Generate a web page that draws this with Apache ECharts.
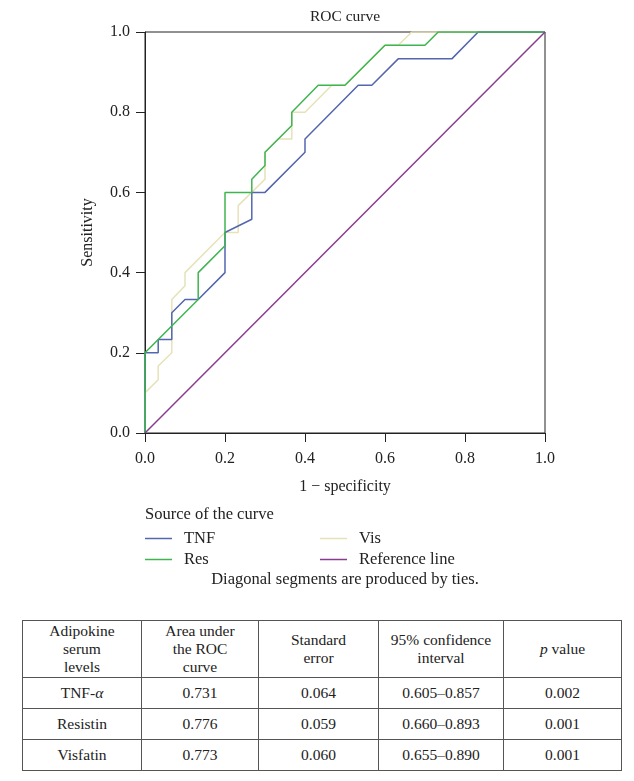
<!DOCTYPE html>
<html>
<head>
<meta charset="utf-8">
<script src="https://cdn.jsdelivr.net/npm/echarts@6/dist/echarts.min.js"></script>
<style>
  html, body { margin: 0; padding: 0; background: #fff; }
  #wrap { position: relative; width: 634px; height: 781px; }
  #chart { position: absolute; left: 0; top: 0; width: 634px; height: 610px; }
  #tbl { position: absolute; left: 22px; top: 620px; border-collapse: collapse; table-layout: fixed; width: 599px;
         font-family: "Liberation Serif", "DejaVu Serif", serif; font-size: 15.5px; color: #222; }
  #tbl td { border: 1px solid #555; text-align: center; padding: 0; line-height: 18px; box-sizing: border-box; }
</style>
</head>
<body>
<div id="wrap">
  <div id="chart"></div>
  <table id="tbl"></table>
</div>
<script>
// ROC curve points (1 - specificity, sensitivity)
const tnfX = [0, 0, 0.033, 0.033, 0.067, 0.067, 0.1, 0.133, 0.2, 0.2, 0.267, 0.267, 0.3, 0.4, 0.4, 0.533, 0.567, 0.633, 0.767, 0.833, 1];
const tnfY = [0, 0.2, 0.2, 0.233, 0.233, 0.3, 0.333, 0.333, 0.4, 0.5, 0.533, 0.6, 0.6, 0.7, 0.733, 0.867, 0.867, 0.933, 0.933, 1, 1];

const resX = [0, 0, 0.133, 0.133, 0.2, 0.2, 0.267, 0.267, 0.3, 0.3, 0.367, 0.367, 0.433, 0.5, 0.6, 0.7, 0.733, 1];
const resY = [0, 0.2, 0.333, 0.4, 0.467, 0.6, 0.6, 0.633, 0.667, 0.7, 0.767, 0.8, 0.867, 0.867, 0.967, 0.967, 1, 1];

const visX = [0, 0, 0.033, 0.033, 0.067, 0.067, 0.1, 0.1, 0.2, 0.233, 0.233, 0.3, 0.3, 0.333, 0.367, 0.367, 0.4, 0.467, 0.5, 0.6, 0.633, 0.667, 1];
const visY = [0, 0.1, 0.133, 0.167, 0.2, 0.333, 0.367, 0.4, 0.5, 0.5, 0.567, 0.633, 0.7, 0.733, 0.733, 0.8, 0.8, 0.867, 0.867, 0.967, 0.967, 1, 1];

const refX = [0, 1];
const refY = [0, 1];

// Table
const tableHeader = ['Adipokine<br>serum<br>levels', 'Area under<br>the ROC<br>curve', 'Standard<br>error', '95% confidence<br>interval', '<i>p</i> value'];
const tableNames = ['TNF-<i>α</i>', 'Resistin', 'Visfatin'];
const tableAUC = ['0.731', '0.776', '0.773'];
const tableSE = ['0.064', '0.059', '0.060'];
const tableCI = ['0.605–0.857', '0.660–0.893', '0.655–0.890'];
const tableP = ['0.002', '0.001', '0.001'];

const colWidths = [119, 117, 120, 125, 118];

(function buildTable() {
  const t = document.getElementById('tbl');
  let html = '<colgroup>';
  colWidths.forEach(w => { html += '<col style="width:' + w + 'px">'; });
  html += '</colgroup><tr style="height:57px">';
  tableHeader.forEach(h => { html += '<td>' + h + '</td>'; });
  html += '</tr>';
  for (let r = 0; r < tableNames.length; r++) {
    html += '<tr style="height:31px">';
    [tableNames[r], tableAUC[r], tableSE[r], tableCI[r], tableP[r]].forEach(v => { html += '<td>' + v + '</td>'; });
    html += '</tr>';
  }
  t.innerHTML = html;
})();

const zip = (xs, ys) => xs.map((x, i) => [x, ys[i]]);
const FONT = '"Liberation Serif", "DejaVu Serif", serif';

const colors = { TNF: '#5366ae', Res: '#3fb54f', Vis: '#e6e2b8', Ref: '#8a3b8e' };

const chart = echarts.init(document.getElementById('chart'), null, { renderer: 'canvas' });

const axisCommon = {
  type: 'value', min: 0, max: 1, interval: 0.2,
  axisLine: { show: true, lineStyle: { color: '#222', width: 1 } },
  axisTick: { show: true, inside: false, length: 9, lineStyle: { color: '#222', width: 1 } },
  splitLine: { show: false },
  axisLabel: { color: '#222', fontFamily: FONT, fontSize: 16, formatter: v => v.toFixed(1) },
  nameTextStyle: { color: '#222', fontFamily: FONT, fontSize: 16 },
  nameLocation: 'middle'
};

const legendText = { fontFamily: FONT, fontSize: 16.5, color: '#222', padding: [0, 0, 0, 7], lineHeight: 16 };

chart.setOption({
  animation: false,
  backgroundColor: '#fff',
  grid: { left: 145, top: 32, width: 400, height: 401, show: true, borderColor: '#222', borderWidth: 1, backgroundColor: 'transparent' },
  xAxis: Object.assign({}, axisCommon, { name: '1 − specificity', nameGap: 46, axisLabel: Object.assign({}, axisCommon.axisLabel, { margin: 18 }) }),
  yAxis: Object.assign({}, axisCommon, { name: 'Sensitivity', nameGap: 49, axisLabel: Object.assign({}, axisCommon.axisLabel, { margin: 15 }) }),
  legend: [
    { left: 145, top: 530, padding: 0, orient: 'vertical', itemGap: 4, itemWidth: 27, itemHeight: 1.5, icon: 'rect',
      data: ['TNF', 'Res'], textStyle: legendText },
    { left: 320, top: 530, padding: 0, orient: 'vertical', itemGap: 4, itemWidth: 27, itemHeight: 1.5, icon: 'rect',
      data: ['Vis', 'Reference line'], textStyle: legendText }
  ],
  graphic: [
    { type: 'text', x: 345, y: 17, style: { text: 'ROC curve', fontFamily: FONT, fontSize: 15.5, fill: '#222', textAlign: 'center', textVerticalAlign: 'middle' } },
    { type: 'text', x: 145, y: 515, style: { text: 'Source of the curve', fontFamily: FONT, fontSize: 16.5, fill: '#222', textAlign: 'left', textVerticalAlign: 'middle' } },
    { type: 'text', x: 345, y: 580, style: { text: 'Diagonal segments are produced by ties.', fontFamily: FONT, fontSize: 16.5, fill: '#222', textAlign: 'center', textVerticalAlign: 'middle' } }
  ],
  series: [
    { name: 'Vis', type: 'line', data: zip(visX, visY), showSymbol: false, symbol: 'none', lineStyle: { color: colors.Vis, width: 1.5 }, itemStyle: { color: colors.Vis }, z: 2 },
    { name: 'TNF', type: 'line', data: zip(tnfX, tnfY), showSymbol: false, symbol: 'none', lineStyle: { color: colors.TNF, width: 1.5 }, itemStyle: { color: colors.TNF }, z: 3 },
    { name: 'Res', type: 'line', data: zip(resX, resY), showSymbol: false, symbol: 'none', lineStyle: { color: colors.Res, width: 1.5 }, itemStyle: { color: colors.Res }, z: 4 },
    { name: 'Reference line', type: 'line', data: zip(refX, refY), showSymbol: false, symbol: 'none', lineStyle: { color: colors.Ref, width: 1.5 }, itemStyle: { color: colors.Ref }, z: 5 }
  ]
});
</script>
</body>
</html>
